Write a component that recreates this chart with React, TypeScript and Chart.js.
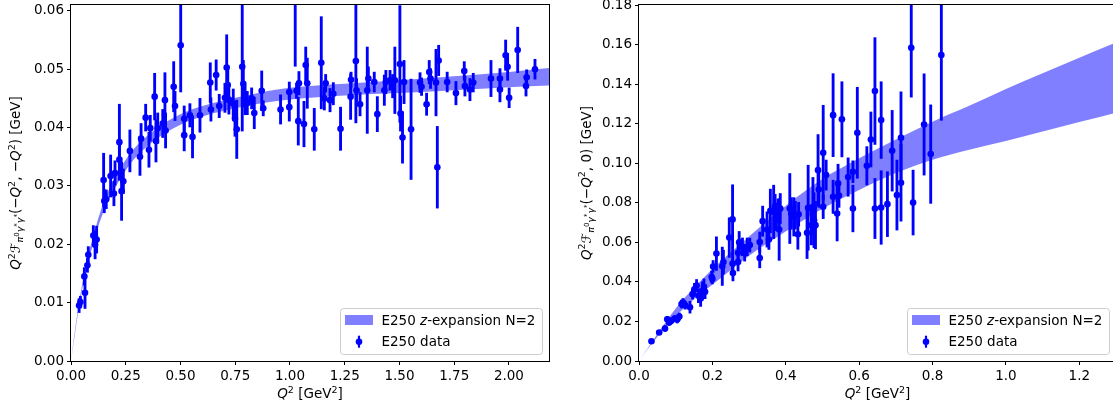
import React, { useEffect, useRef } from "react";
import { Chart, registerables } from "chart.js";

Chart.register(...registerables);

const FONT = '"DejaVu Sans", Verdana, sans-serif';
const BLUE = "#0000ff";
const BAND = "rgba(0, 0, 255, 0.5)";

// ---------------- Left panel: Q^2 F(-Q^2, -Q^2) ----------------
const leftQ2 = [
  0.037, 0.043, 0.061, 0.064, 0.075, 0.079, 0.102, 0.110, 0.117, 0.149,
  0.152, 0.161, 0.181, 0.196, 0.201, 0.221, 0.221, 0.231, 0.239, 0.269,
  0.315, 0.320, 0.341, 0.356, 0.362, 0.382, 0.388, 0.396, 0.419, 0.429,
  0.432, 0.469, 0.475, 0.501, 0.517, 0.517, 0.543, 0.555, 0.589, 0.636,
  0.639, 0.663, 0.677, 0.703, 0.711, 0.716, 0.721, 0.741, 0.749, 0.757,
  0.782, 0.787, 0.795, 0.805, 0.825, 0.837, 0.871, 0.878, 0.957, 0.997,
  0.997, 1.024, 1.030, 1.038, 1.041, 1.064, 1.072, 1.079, 1.111, 1.143,
  1.157, 1.163, 1.183, 1.198, 1.231, 1.277, 1.279, 1.301, 1.304, 1.320,
  1.353, 1.358, 1.385, 1.399, 1.431, 1.438, 1.457, 1.469, 1.479, 1.502,
  1.505, 1.514, 1.521, 1.553, 1.594, 1.601, 1.624, 1.636, 1.642, 1.667,
  1.673, 1.679, 1.718, 1.758, 1.796, 1.799, 1.822, 1.837, 1.918, 1.959,
  1.959, 1.985, 1.994, 2.001, 2.040, 2.078, 2.081, 2.119,
];
const leftVal = [
  0.0095, 0.0101, 0.0145, 0.0117, 0.0164, 0.0182, 0.0215, 0.0199, 0.0208, 0.0310,
  0.0274, 0.0277, 0.0317, 0.0287, 0.0322, 0.0375, 0.0345, 0.0291, 0.0308, 0.0360,
  0.0350, 0.0381, 0.0417, 0.0362, 0.0399, 0.0453, 0.0377, 0.0399, 0.0407, 0.0447,
  0.0395, 0.0470, 0.0437, 0.0541, 0.0415, 0.0387, 0.0421, 0.0384, 0.0421, 0.0477,
  0.0431, 0.0490, 0.0437, 0.0451, 0.0503, 0.0473, 0.0448, 0.0441, 0.0415, 0.0397,
  0.0504, 0.0475, 0.0447, 0.0442, 0.0450, 0.0425, 0.0463, 0.0433, 0.0431, 0.0461,
  0.0435, 0.0630, 0.0463, 0.0411, 0.0476, 0.0406, 0.0507, 0.0476, 0.0397, 0.0511,
  0.0450, 0.0476, 0.0447, 0.0458, 0.0398, 0.0453, 0.0482, 0.0514, 0.0464, 0.0440,
  0.0464, 0.0484, 0.0478, 0.0423, 0.0464, 0.0478, 0.0481, 0.0471, 0.0481, 0.0509,
  0.0424, 0.0383, 0.0478, 0.0397, 0.0477, 0.0470, 0.0440, 0.0495, 0.0484, 0.0477,
  0.0332, 0.0515, 0.0478, 0.0459, 0.0497, 0.0471, 0.0465, 0.0477, 0.0484, 0.0484,
  0.0465, 0.0524, 0.0504, 0.0451, 0.0533, 0.0471, 0.0486, 0.0500,
];
const leftErr = [
  0.0012, 0.0010, 0.0015, 0.0027, 0.0012, 0.0014, 0.0017, 0.0024, 0.0023, 0.0046,
  0.0020, 0.0016, 0.0036, 0.0021, 0.0021, 0.0065, 0.0035, 0.0050, 0.0021, 0.0036,
  0.0032, 0.0026, 0.0023, 0.0030, 0.0022, 0.0040, 0.0036, 0.0026, 0.0024, 0.0047,
  0.0030, 0.0043, 0.0025, 0.0080, 0.0022, 0.0027, 0.0020, 0.0036, 0.0029, 0.0034,
  0.0020, 0.0026, 0.0020, 0.0025, 0.0056, 0.0030, 0.0025, 0.0025, 0.0030, 0.0050,
  0.0110, 0.0040, 0.0025, 0.0020, 0.0018, 0.0027, 0.0034, 0.0013, 0.0025, 0.0017,
  0.0024, 0.0125, 0.0013, 0.0041, 0.0020, 0.0039, 0.0031, 0.0043, 0.0036, 0.0079,
  0.0020, 0.0015, 0.0020, 0.0019, 0.0037, 0.0039, 0.0013, 0.0106, 0.0020, 0.0020,
  0.0074, 0.0020, 0.0017, 0.0030, 0.0026, 0.0020, 0.0017, 0.0020, 0.0057, 0.0100,
  0.0030, 0.0044, 0.0037, 0.0086, 0.0017, 0.0015, 0.0019, 0.0020, 0.0017, 0.0057,
  0.0070, 0.0026, 0.0017, 0.0020, 0.0016, 0.0017, 0.0019, 0.0016, 0.0031, 0.0017,
  0.0021, 0.0026, 0.0023, 0.0017, 0.0039, 0.0017, 0.0013, 0.0017,
];
const leftBandQ2 = [0, 0.01, 0.02, 0.035, 0.05, 0.075, 0.1, 0.125, 0.15, 0.2, 0.25, 0.3, 0.4, 0.5, 0.6, 0.8, 1.0, 1.25, 1.5, 1.75, 2.0, 2.183];
const leftBandLo = [0, 0.0026, 0.0052, 0.0089, 0.0121, 0.0164, 0.0199, 0.0231, 0.0257, 0.0296, 0.0327, 0.0351, 0.0383, 0.0405, 0.0419, 0.0437, 0.0448, 0.0455, 0.0459, 0.0464, 0.0469, 0.0472];
const leftBandHi = [0, 0.0030, 0.0058, 0.0095, 0.0129, 0.0176, 0.0211, 0.0245, 0.0273, 0.0314, 0.0345, 0.0369, 0.0401, 0.0423, 0.0437, 0.0455, 0.0468, 0.0475, 0.0481, 0.0488, 0.0495, 0.0502];
const leftXTickLabels = ["0.00", "0.25", "0.50", "0.75", "1.00", "1.25", "1.50", "1.75", "2.00"];
const leftYTickLabels = ["0.00", "0.01", "0.02", "0.03", "0.04", "0.05", "0.06"];

// ---------------- Right panel: Q^2 F(-Q^2, 0) ----------------
const rightQ2 = [
  0.034, 0.055, 0.071, 0.077, 0.082, 0.088, 0.097, 0.104, 0.110, 0.116,
  0.120, 0.126, 0.139, 0.146, 0.151, 0.157, 0.162, 0.168, 0.173, 0.177,
  0.180, 0.198, 0.200, 0.202, 0.211, 0.227, 0.230, 0.246, 0.255, 0.255,
  0.256, 0.270, 0.270, 0.273, 0.282, 0.288, 0.295, 0.302, 0.329, 0.329,
  0.337, 0.349, 0.354, 0.358, 0.367, 0.371, 0.374, 0.379, 0.382, 0.385,
  0.411, 0.415, 0.422, 0.426, 0.433, 0.435, 0.458, 0.461, 0.470, 0.474,
  0.477, 0.481, 0.488, 0.490, 0.502, 0.502, 0.510, 0.529, 0.529, 0.540,
  0.5425, 0.545, 0.553, 0.570, 0.583, 0.583, 0.595, 0.621, 0.632, 0.643,
  0.643, 0.660, 0.660, 0.677, 0.690, 0.703, 0.714, 0.714, 0.742, 0.747,
  0.777, 0.795, 0.824,
];
const rightVal = [
  0.0100, 0.0144, 0.0164, 0.0211, 0.0195, 0.0203, 0.0215, 0.0210, 0.0225, 0.0288,
  0.0296, 0.0282, 0.0272, 0.0338, 0.0362, 0.0382, 0.0330, 0.0316, 0.0355, 0.0375,
  0.0350, 0.0425, 0.0415, 0.0478, 0.0543, 0.0479, 0.0500, 0.0624, 0.0716, 0.0493,
  0.0445, 0.0547, 0.0500, 0.0600, 0.0577, 0.0545, 0.0577, 0.0586, 0.0602, 0.0521,
  0.0707, 0.0665, 0.0614, 0.0759, 0.0754, 0.0783, 0.0729, 0.0759, 0.0665, 0.0771,
  0.0771, 0.0746, 0.0729, 0.0737, 0.0641, 0.0742, 0.0648, 0.0775, 0.0687, 0.0780,
  0.0712, 0.0687, 0.0965, 0.0867, 0.1053, 0.0780, 0.0940, 0.1243, 0.0830, 0.0746,
  0.0898, 0.0837, 0.1222, 0.0930, 0.0957, 0.0771, 0.1154, 0.0987, 0.1120, 0.1365,
  0.0771, 0.1218, 0.0776, 0.0793, 0.1063, 0.0839, 0.1129, 0.0901, 0.1584, 0.0801,
  0.1196, 0.1046, 0.1547,
];
const rightErr = [
  0.0008, 0.0010, 0.0015, 0.0015, 0.0015, 0.0015, 0.0015, 0.0018, 0.0018, 0.0020,
  0.0020, 0.0020, 0.0030, 0.0025, 0.0030, 0.0030, 0.0035, 0.0040, 0.0045, 0.0040,
  0.0035, 0.0030, 0.0025, 0.0030, 0.0085, 0.0097, 0.0060, 0.0100, 0.0175, 0.0050,
  0.0040, 0.0060, 0.0045, 0.0055, 0.0045, 0.0040, 0.0045, 0.0035, 0.0050, 0.0050,
  0.0076, 0.0089, 0.0050, 0.0110, 0.0135, 0.0060, 0.0070, 0.0060, 0.0156, 0.0076,
  0.0177, 0.0080, 0.0097, 0.0070, 0.0076, 0.0060, 0.0130, 0.0215, 0.0100, 0.0148,
  0.0139, 0.0120, 0.0180, 0.0090, 0.0240, 0.0060, 0.0076, 0.0210, 0.0084, 0.0139,
  0.0097, 0.0060, 0.0190, 0.0097, 0.0055, 0.0118, 0.0230, 0.0097, 0.0139, 0.0270,
  0.0152, 0.0194, 0.0186, 0.0164, 0.0204, 0.0177, 0.0232, 0.0194, 0.0250, 0.0164,
  0.0256, 0.0249, 0.0330,
];
const rightBandQ2 = [0, 0.025, 0.05, 0.1, 0.15, 0.2, 0.3, 0.4, 0.5, 0.6, 0.7, 0.8, 0.9, 1.0, 1.1, 1.2, 1.3];
const rightBandLo = [0, 0.0064, 0.0123, 0.0226, 0.0312, 0.0385, 0.0532, 0.0655, 0.0770, 0.0865, 0.0950, 0.1018, 0.1068, 0.1112, 0.1160, 0.1208, 0.1255];
const rightBandHi = [0, 0.0068, 0.0136, 0.0266, 0.0370, 0.0465, 0.0630, 0.0785, 0.0920, 0.1025, 0.1120, 0.1210, 0.1290, 0.1375, 0.1455, 0.1533, 0.1610];
const rightXTickLabels = ["0.0", "0.2", "0.4", "0.6", "0.8", "1.0", "1.2"];
const rightYTickLabels = ["0.00", "0.02", "0.04", "0.06", "0.08", "0.10", "0.12", "0.14", "0.16", "0.18"];

// ---------------- Text ----------------
type Seg = { t: string; s: number; dy: number; i?: boolean };
const B = 13.5;
const n = (t: string): Seg => ({ t, s: B, dy: 0 });
const it = (t: string): Seg => ({ t, s: B, dy: 0, i: true });
const sup = (t: string): Seg => ({ t, s: 9.5, dy: -5.5 });
const sub = (t: string, i = false): Seg => ({ t, s: 9.5, dy: 3, i });
const subsup = (t: string): Seg => ({ t, s: 7, dy: -1.5 });

const formLabel: Seg[] = [it("Q"), sup("2"), it("ℱ"), sub("π", true), subsup("0"), sub("γ", true), subsup("*"), sub("γ", true), subsup("*")];
const leftYTitle: Seg[] = [...formLabel, n("(−"), it("Q"), sup("2"), n(", −"), it("Q"), sup("2"), n(") [GeV]")];
const rightYTitle: Seg[] = [...formLabel, n("(−"), it("Q"), sup("2"), n(", 0) [GeV]")];
const xTitle: Seg[] = [it("Q"), sup("2"), n(" [GeV"), sup("2"), n("]")];
const bandLegend: Seg[] = [n("E250 "), it("z"), n("-expansion N=2")];
const dataLegend: Seg[] = [n("E250 data")];

function segFont(s: Seg) {
  return `${s.i ? "italic " : ""}${s.s}px ${FONT}`;
}
function drawRich(ctx: CanvasRenderingContext2D, segs: Seg[], x: number, y: number, center: boolean) {
  let w = 0;
  for (const s of segs) {
    ctx.font = segFont(s);
    w += ctx.measureText(s.t).width;
  }
  let cx = center ? x - w / 2 : x;
  ctx.textAlign = "left";
  ctx.textBaseline = "alphabetic";
  for (const s of segs) {
    ctx.font = segFont(s);
    ctx.fillText(s.t, cx, y + s.dy);
    cx += ctx.measureText(s.t).width;
  }
}

type Spec = {
  q2: number[]; val: number[]; err: number[];
  bandX: number[]; bandLo: number[]; bandHi: number[];
  xMax: number; yMax: number;
  xLabels: string[]; yLabels: string[];
  yTitle: Seg[]; yTitleX: number;
  areaLeft: number; padRight: number;
};

function makeChart(canvas: HTMLCanvasElement, sp: Spec) {
  const xTicks = sp.xLabels.map((l) => parseFloat(l));
  const yTicks = sp.yLabels.map((l) => parseFloat(l));
  const tickFont = { family: FONT, size: 13.5 };

  const decor = {
    id: "decor",
    afterDraw(chart: any) {
      const ctx: CanvasRenderingContext2D = chart.ctx;
      const a = chart.chartArea;
      ctx.save();
      ctx.strokeStyle = "#000";
      ctx.lineWidth = 1;
      ctx.strokeRect(a.left - 0.5, a.top - 0.5, a.right - a.left + 1, a.bottom - a.top + 1);
      ctx.fillStyle = "#000";
      drawRich(ctx, xTitle, (a.left + a.right) / 2, 398, true);
      ctx.save();
      ctx.translate(sp.yTitleX, (a.top + a.bottom) / 2);
      ctx.rotate(-Math.PI / 2);
      drawRich(ctx, sp.yTitle, 0, 4.5, true);
      ctx.restore();
      const bw = 202, bh = 46;
      const bx = a.right - 7 - bw, by = a.bottom - 7 - bh;
      ctx.beginPath();
      ctx.roundRect(bx + 0.5, by + 0.5, bw, bh, 3);
      ctx.fillStyle = "rgba(255,255,255,0.8)";
      ctx.fill();
      ctx.strokeStyle = "#cccccc";
      ctx.lineWidth = 1;
      ctx.stroke();
      ctx.fillStyle = BAND;
      ctx.fillRect(bx + 5, by + 7, 28, 10);
      ctx.strokeStyle = BLUE;
      ctx.lineWidth = 2.2;
      ctx.beginPath();
      ctx.moveTo(bx + 19, by + 33.7 - 6);
      ctx.lineTo(bx + 19, by + 33.7 + 6);
      ctx.stroke();
      ctx.fillStyle = BLUE;
      ctx.beginPath();
      ctx.arc(bx + 19, by + 33.7, 3.3, 0, Math.PI * 2);
      ctx.fill();
      ctx.fillStyle = "#000";
      drawRich(ctx, bandLegend, bx + 41.5, by + 16.7, false);
      drawRich(ctx, dataLegend, bx + 41.5, by + 38.4, false);
      ctx.restore();
    },
  };

  return new Chart(canvas, {
    type: "scatter",
    data: {
      datasets: [
        {
          type: "line",
          data: sp.bandX.map((x, i) => ({ x, y: sp.bandLo[i] })),
          borderColor: "rgba(0,0,255,0)",
          borderWidth: 0,
          pointRadius: 0,
          fill: false,
          cubicInterpolationMode: "monotone",
          order: 4,
        },
        {
          type: "line",
          data: sp.bandX.map((x, i) => ({ x, y: sp.bandHi[i] })),
          borderColor: "rgba(0,0,255,0)",
          borderWidth: 0,
          pointRadius: 0,
          backgroundColor: BAND,
          fill: "-1",
          cubicInterpolationMode: "monotone",
          order: 3,
        },
        {
          type: "bar",
          data: sp.q2.map((x, i) => ({ x, y: [sp.val[i] - sp.err[i], sp.val[i] + sp.err[i]] })),
          backgroundColor: BLUE,
          borderWidth: 0,
          barThickness: 2.2,
          grouped: false,
          order: 2,
        },
        {
          type: "scatter",
          data: sp.q2.map((x, i) => ({ x, y: sp.val[i] })),
          pointRadius: 3.3,
          pointBackgroundColor: BLUE,
          pointBorderWidth: 0,
          order: 1,
        },
      ] as any,
    },
    options: {
      responsive: false,
      animation: false,
      devicePixelRatio: 1,
      events: [],
      layout: { padding: { left: 0, right: sp.padRight, top: 5, bottom: 0 } },
      plugins: { legend: { display: false }, tooltip: { enabled: false } },
      scales: {
        x: {
          type: "linear",
          min: 0,
          max: sp.xMax,
          offset: false,
          afterFit: (s: any) => { s.height = 49; s.paddingLeft = 0; s.paddingRight = 0; },
          afterBuildTicks: (s: any) => { s.ticks = xTicks.map((v) => ({ value: v })); },
          ticks: {
            callback: (_v: any, i: number) => sp.xLabels[i],
            font: tickFont, color: "#000", padding: 3, maxRotation: 0, autoSkip: false,
          },
          grid: { display: true, drawOnChartArea: false, drawTicks: true, tickLength: 4, tickColor: "#000", tickWidth: 1, offset: false },
          border: { display: false },
        },
        y: {
          type: "linear",
          min: 0,
          max: sp.yMax,
          afterFit: (s: any) => { s.width = sp.areaLeft; s.paddingTop = 0; s.paddingBottom = 0; },
          afterBuildTicks: (s: any) => { s.ticks = yTicks.map((v) => ({ value: v })); },
          ticks: {
            callback: (_v: any, i: number) => sp.yLabels[i],
            font: tickFont, color: "#000", padding: 3, autoSkip: false,
          },
          grid: { display: true, drawOnChartArea: false, drawTicks: true, tickLength: 4, tickColor: "#000", tickWidth: 1 },
          border: { display: false },
        },
      },
    } as any,
    plugins: [decor],
  });
}

const leftSpec: Spec = {
  q2: leftQ2, val: leftVal, err: leftErr,
  bandX: leftBandQ2, bandLo: leftBandLo, bandHi: leftBandHi,
  xMax: 2.183, yMax: 0.061,
  xLabels: leftXTickLabels, yLabels: leftYTickLabels,
  yTitle: leftYTitle, yTitleX: 15.5,
  areaLeft: 71, padRight: 11,
};
const rightSpec: Spec = {
  q2: rightQ2, val: rightVal, err: rightErr,
  bandX: rightBandQ2, bandLo: rightBandLo, bandHi: rightBandHi,
  xMax: 1.3, yMax: 0.18,
  xLabels: rightXTickLabels, yLabels: rightYTickLabels,
  yTitle: rightYTitle, yTitleX: 26,
  areaLeft: 79, padRight: 3.25,
};

function Panel({ spec, left }: { spec: Spec; left: number }) {
  const ref = useRef<HTMLCanvasElement>(null);
  useEffect(() => {
    const chart = makeChart(ref.current!, spec);
    return () => chart.destroy();
  }, []);
  return (
    <canvas
      ref={ref}
      width={560}
      height={410}
      style={{ position: "absolute", left, top: 0, width: 560, height: 410 }}
    />
  );
}

export default function App() {
  return (
    <div style={{ position: "absolute", left: 0, top: 0, width: 1113, height: 410, overflow: "hidden", background: "#fff" }}>
      <Panel spec={leftSpec} left={0} />
      <Panel spec={rightSpec} left={560} />
    </div>
  );
}
